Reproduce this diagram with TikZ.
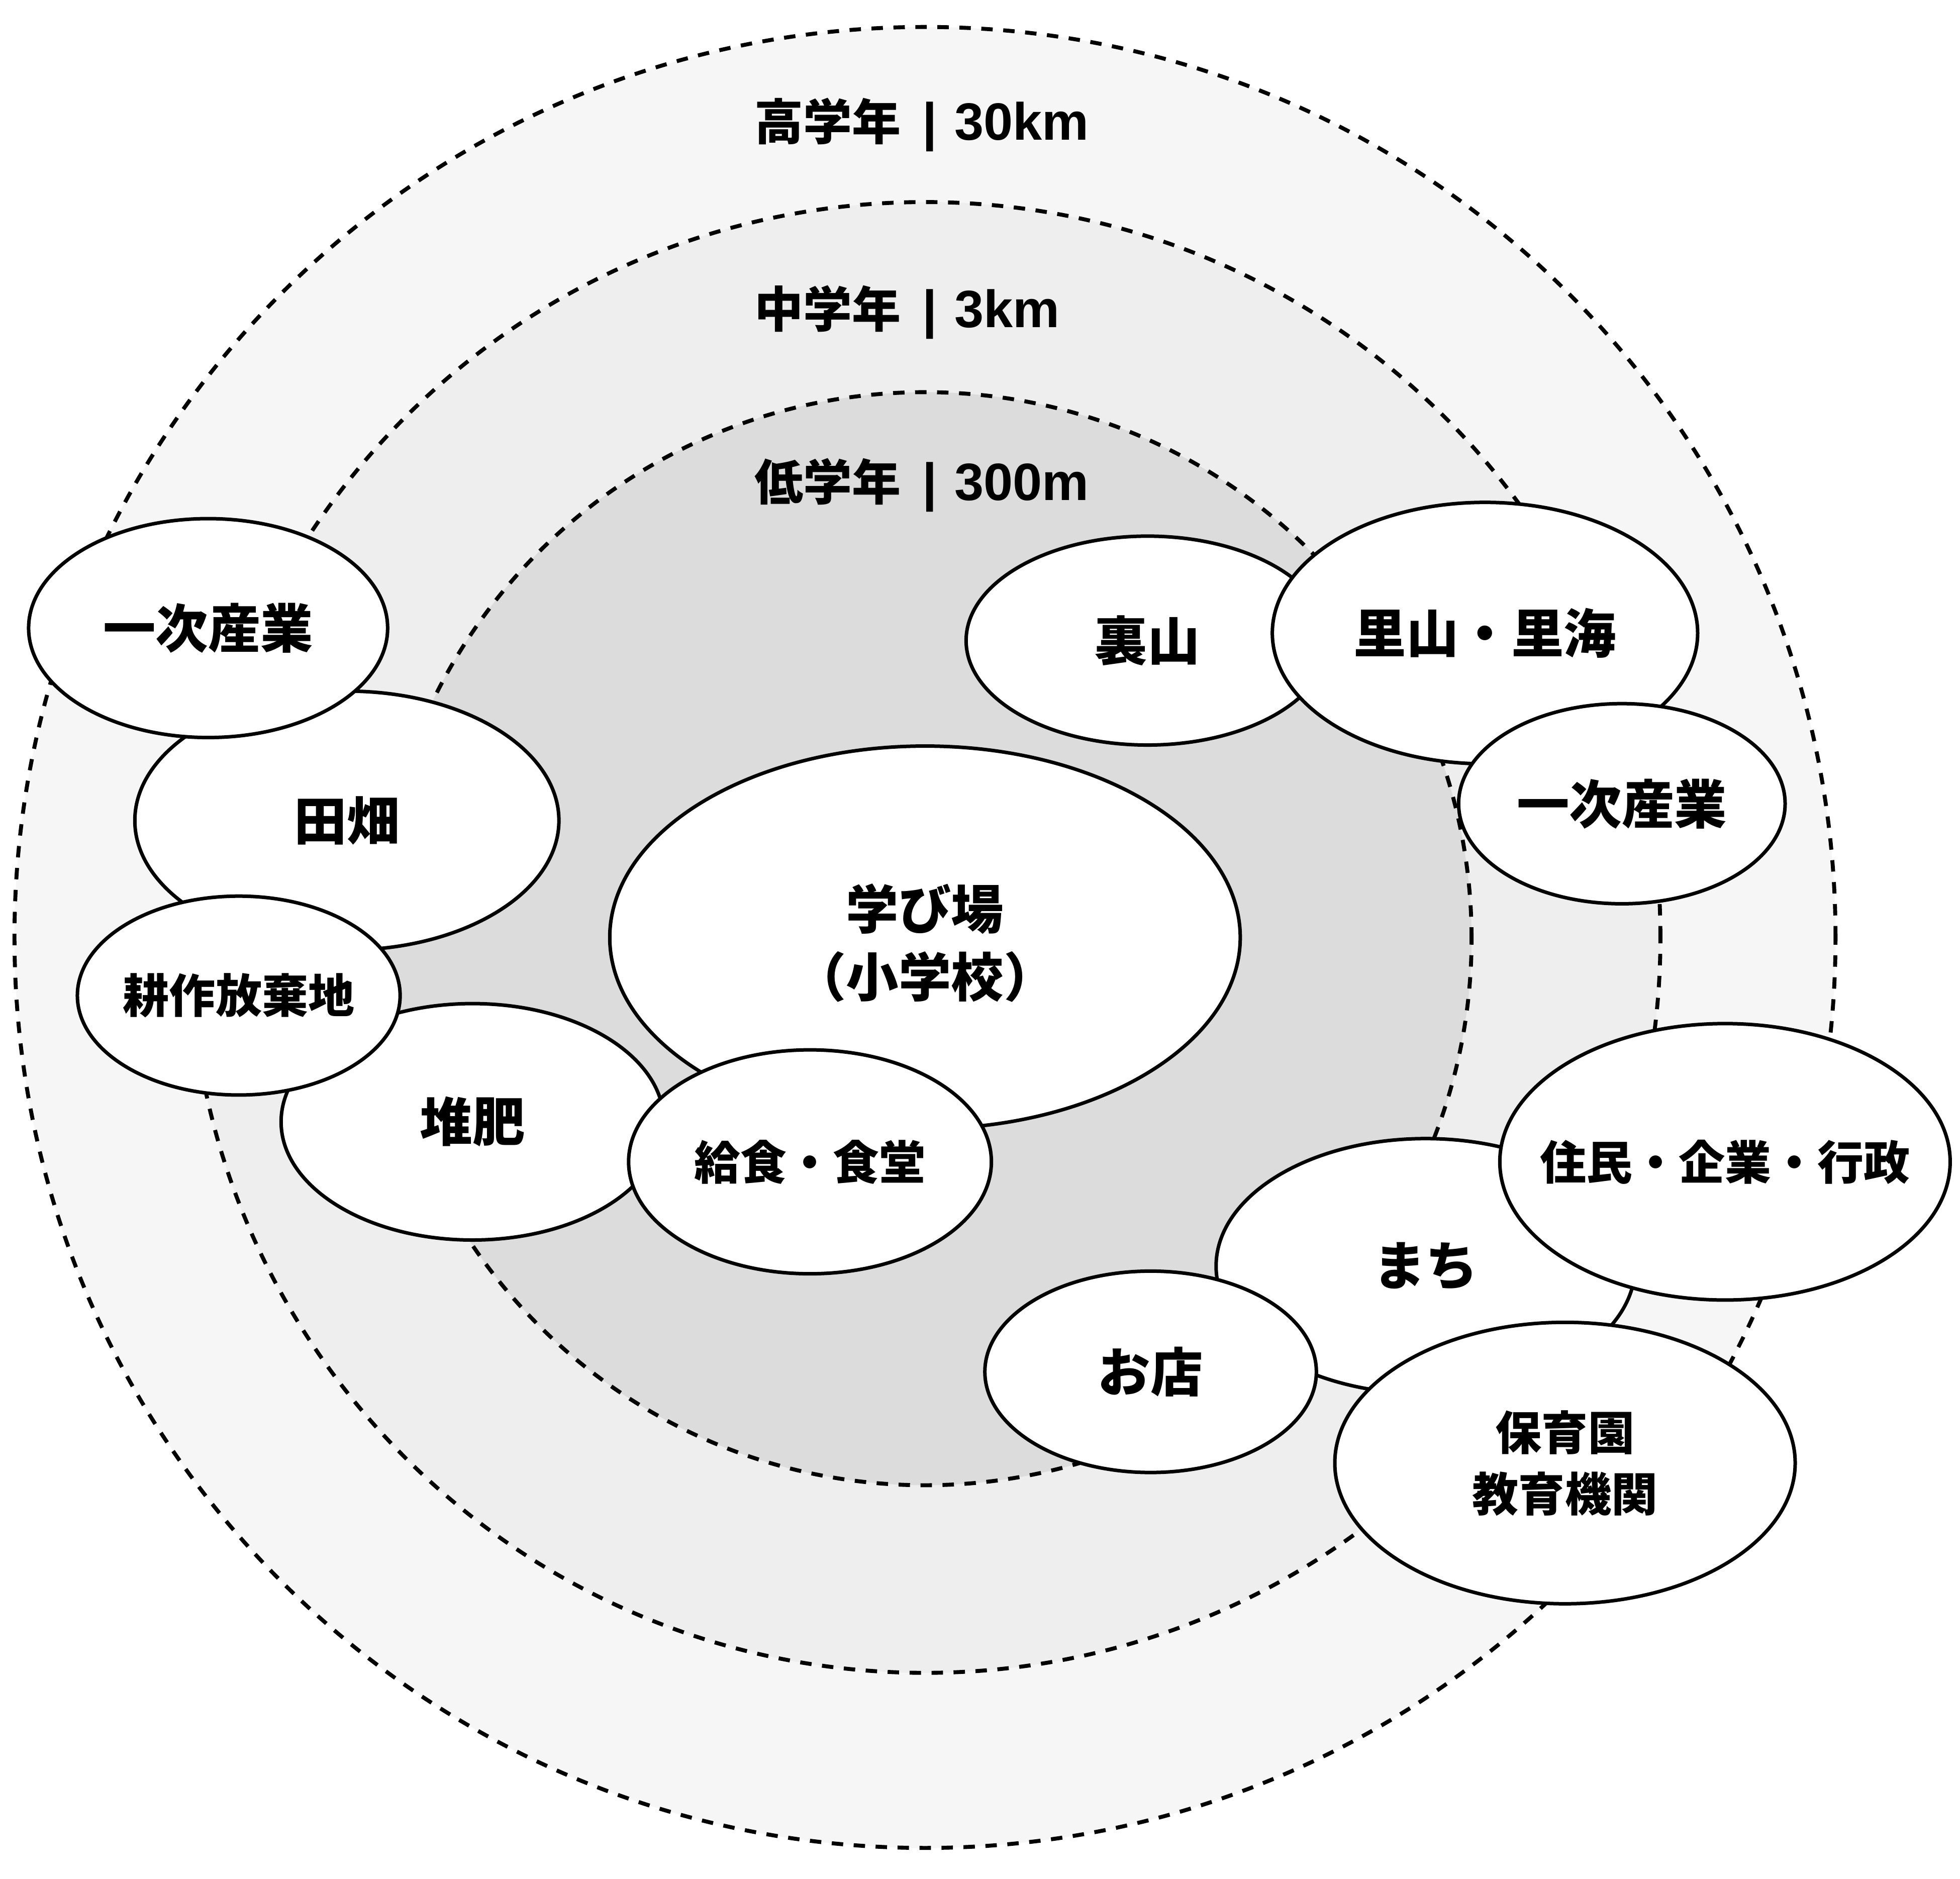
\documentclass[tikz,border=0pt]{standalone}
\usepackage{fontspec}
\setmainfont{Liberation Sans}
\newfontfamily\jpfont{Noto Sans CJK JP}
\usepackage{tikz}
\usetikzlibrary{shapes.geometric}
\definecolor{ringA}{RGB}{246,246,246}
\definecolor{ringB}{RGB}{238,238,238}
\definecolor{ringC}{RGB}{220,220,220}
\newcommand{\sep}{\hspace{0.17cm}|\hspace{0.14cm}}
\newcommand{\grade}[1]{{\jpfont\fontsize{0.39cm}{0.45cm}\selectfont #1}}

\begin{document}
\begin{tikzpicture}[x=0.01cm,y=-0.01cm,
  zone/.style={draw=black,line width=0.9pt,dash pattern=on 2.6pt off 2.4pt},
  bub/.style={ellipse,draw,fill=white,line width=0.8pt,inner sep=0pt,
    font=\jpfont\bfseries\fontsize{0.42cm}{0.54cm}\selectfont,
    execute at begin node={\hbox to 0pt\bgroup\hss},
    execute at end node={\hss\egroup}},
  small/.style={font=\jpfont\bfseries\fontsize{0.37cm}{0.49cm}\selectfont},
  sz/.style 2 args={minimum width=#1*0.02cm,minimum height=#2*0.02cm},
  ring/.style={anchor=west,inner sep=0pt,font=\bfseries\fontsize{0.42cm}{0.45cm}\selectfont}]
  \fill[white] (0,0) rectangle (1568,1503);
  \useasboundingbox (0,0) rectangle (1568,1503);
  % distance rings
  \filldraw[zone,fill=ringA] (740,750) circle [radius=7.28cm];
  \filldraw[zone,fill=ringB] (740,750) circle [radius=5.88cm];
  \filldraw[zone,fill=ringC] (740,751) circle [radius=4.37cm];
  \node[ring] (upper) at (603,100) {\grade{高学年}\sep 30km};
  \node[ring] (middle) at (603,250) {\grade{中学年}\sep 3km};
  \node[ring] (lower) at (603,388) {\grade{低学年}\sep 300m};
  % left cluster
  \node[bub,sz={169.5}{103.5}] (tahata) at (277.5,656.5) {田畑};
  \node[bub,sz={143.5}{87.5}] (ichijiL) at (166.5,502.5) {一次産業};
  \node[bub,sz={153}{94.5}] (taihi) at (378,897.5) {堆肥};
  \node[bub,small,sz={129}{79.5}] (kousaku) at (191,796.5) {耕作放棄地};
  % school and lunch
  \node[bub,sz={252}{153}] (manabi) at (740,750)
    {\raisebox{-0.2cm}[0pt][0pt]{\begin{tabular}{@{}c@{}}学び場\\（小学校）\end{tabular}}};
  \node[bub,small,sz={145}{89.5}] (kyushoku) at (648,929.5) {給食・食堂};
  % upper right
  \node[bub,sz={145}{83.5}] (urayama) at (918,512.5) {裏山};
  \node[bub,sz={170}{104.5}] (satoyama) at (1188,506.5) {里山・里海};
  \node[bub,sz={130.5}{80}] (ichijiR) at (1297.5,643) {一次産業};
  % lower right
  \node[bub,sz={167.5}{102}] (machi) at (1140.5,1013) {まち};
  \node[bub,small,sz={180}{110.5}] (jumin) at (1380,929.5) {住民・企業・行政};
  \node[bub,sz={132.5}{80.5}] (omise) at (920.5,1097.5) {お店};
  \node[bub,small,sz={184}{112.5}] (hoikuen) at (1252,1170.5)
    {\raisebox{-0.14cm}[0pt][0pt]{\begin{tabular}{@{}c@{}}保育園\\教育機関\end{tabular}}};
\end{tikzpicture}
\end{document}
